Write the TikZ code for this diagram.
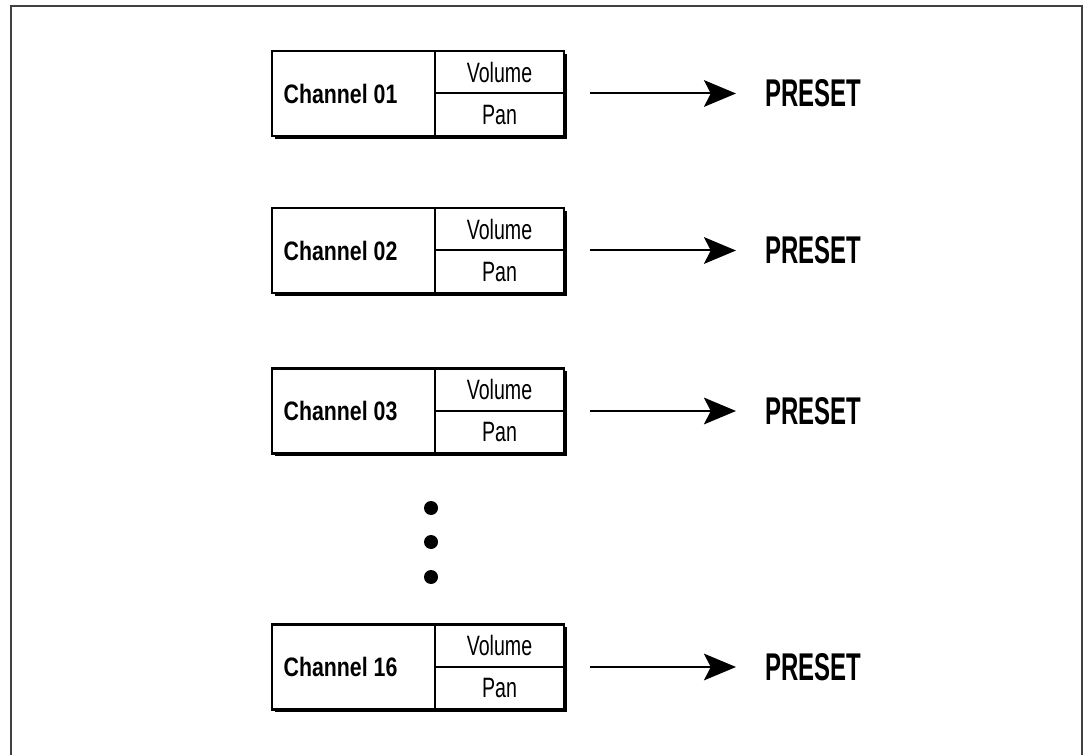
\documentclass[tikz,border=0pt]{standalone}
\usepackage{fontspec}
\setmainfont{Liberation Sans}
\usetikzlibrary{arrows.meta,shadows}
\newcommand\mychan[1]{\scalebox{0.8}[1]{\bfseries\fontsize{20}{20}\selectfont #1}}
\newcommand\mycell[1]{\scalebox{0.7}[1]{\fontsize{21}{21}\selectfont #1}}
\newcommand\mypreset{\scalebox{0.62}[1]{\bfseries\fontsize{29}{29}\selectfont PRESET}}
\begin{document}
\begin{tikzpicture}[x=0.75pt,y=-0.75pt,
  outerbox/.style={draw=black, line width=1.7pt, fill=white, minimum width=219pt, minimum height=63.75pt, inner sep=0pt,
    drop shadow={shadow xshift=2.2pt, shadow yshift=-2.2pt, opacity=1, fill=black}},
  chancell/.style={draw=black, line width=1.5pt, minimum width=122.25pt, minimum height=63.75pt, inner sep=0pt},
  subcell/.style={draw=black, line width=1.5pt, minimum width=96.75pt, minimum height=31.875pt, inner sep=0pt},
  lbl/.style={inner sep=0pt},
  presetnode/.style={anchor=west, inner sep=0pt},
  flow/.style={line width=1.5pt, -{Stealth[length=24pt, width=20pt, inset=5pt]}, shorten <=18.75pt, shorten >=21.75pt},
  dot/.style={circle, fill=black, minimum size=10.5pt, inner sep=0pt}
]
\useasboundingbox (0,0) rectangle (1088,755);
\draw[line width=1.5pt, black!75] (11,760) -- (11,6) -- (1082,6) -- (1082,760);

\foreach \n/\yy/\txt in {1/93.5/01, 2/250.5/02, 3/411/03, 16/667/16}{
  \node[outerbox] (box\n) at (418,\yy) {};
  \node[chancell] (ch\n) at (353.5,\yy) {};
  \node[lbl] (chl\n) at (340.5,\yy) {\mychan{Channel \txt}};
  \node[subcell] (vol\n) at (499.5,\yy-21.25) {\mycell{Volume}};
  \node[subcell] (pan\n) at (499.5,\yy+21.25) {\mycell{Pan}};
  \node[presetnode] (pre\n) at (765,\yy) {\mypreset};
  \draw[flow] (box\n.east) -- (pre\n.west);
}

\node[dot] (d1) at (431,508) {};
\node[dot] (d2) at (431,542) {};
\node[dot] (d3) at (431,577) {};
\end{tikzpicture}
\end{document}
